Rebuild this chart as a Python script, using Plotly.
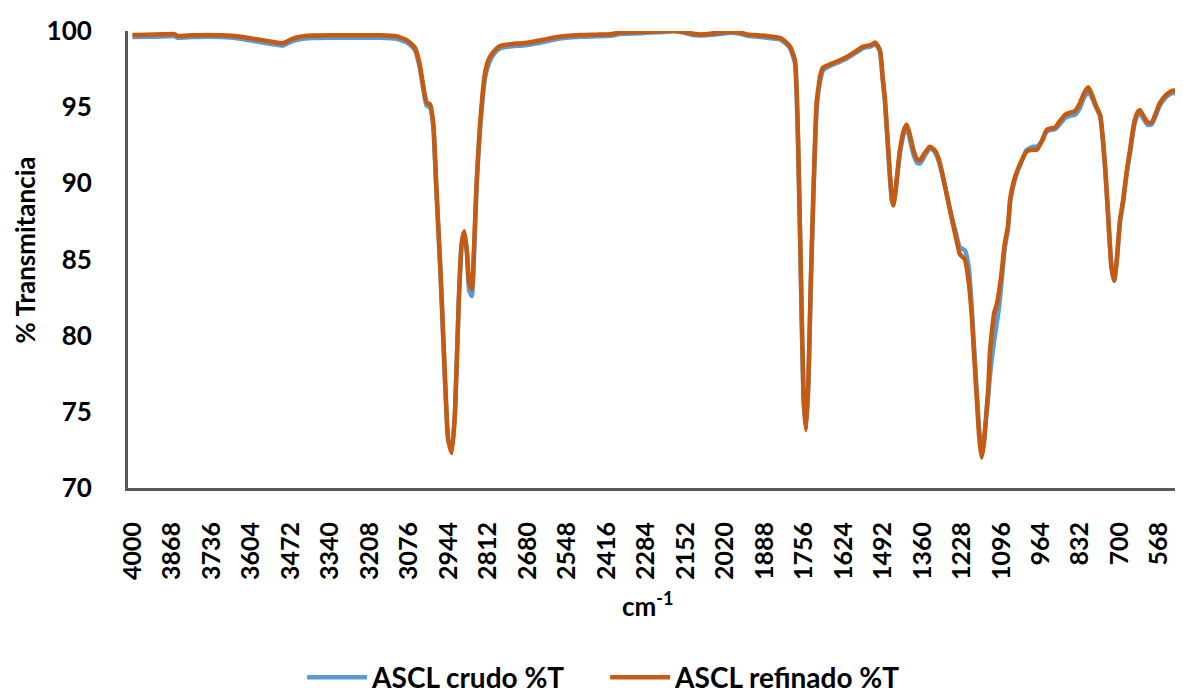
import plotly.graph_objects as go

# Wavenumber (cm-1) sampling points
wavenumber = [4000, 3950, 3900, 3860, 3850, 3800, 3750, 3700, 3650, 3600, 3550, 3497, 3470, 3440,
              3400, 3340, 3250, 3173, 3120, 3083, 3056, 3040, 3025, 3017, 3006, 2995, 2985, 2970,
              2955, 2945, 2933, 2922, 2910, 2900, 2891, 2882, 2875, 2866, 2858, 2850, 2839, 2822,
              2808, 2795, 2780, 2766, 2730, 2695, 2661, 2620, 2594, 2550, 2505, 2450, 2404, 2371,
              2320, 2281, 2240, 2194, 2160, 2120, 2090, 2060, 2030, 2003, 1970, 1947, 1910, 1880,
              1836, 1815, 1802, 1786, 1776, 1766, 1757, 1749, 1741, 1733, 1725, 1713, 1700, 1692,
              1670, 1652, 1613, 1580, 1558, 1530, 1518, 1502, 1493, 1485, 1470, 1462, 1457, 1450,
              1435, 1420, 1412, 1402, 1390, 1378, 1368, 1355, 1335, 1320, 1308, 1295, 1279, 1262,
              1245, 1235, 1218, 1205, 1195, 1185, 1178, 1170, 1162, 1154, 1146, 1140, 1134, 1128,
              1120, 1112, 1103, 1095, 1085, 1074, 1067, 1060, 1050, 1030, 1011, 990, 978, 960,
              945, 933, 917, 900, 883, 865, 850, 835, 820, 806, 795, 780, 766, 750, 738, 728, 719,
              710, 700, 689, 677, 666, 652, 640, 633, 620, 608, 594, 580, 568, 555, 540, 521, 505, 489]

crudo = [99.6, 99.62, 99.64, 99.66, 99.56, 99.6, 99.62, 99.6, 99.52, 99.36, 99.2, 99.05, 99.3, 99.46,
         99.54, 99.56, 99.56, 99.56, 99.5, 99.25, 98.75, 97.6, 95.8, 95.1, 95.0, 93.8, 89.8, 83.8,
         76.8, 73.2, 72.4, 75.0, 82.0, 86.0, 86.8, 85.3, 83.0, 82.6, 85.6, 89.8, 93.4, 96.9,
         97.9, 98.4, 98.75, 98.9, 99.0, 99.05, 99.15, 99.3, 99.42, 99.55, 99.62, 99.65, 99.68, 99.8,
         99.84, 99.88, 99.92, 99.98, 99.9, 99.72, 99.7, 99.76, 99.82, 99.88, 99.82, 99.7, 99.62, 99.56,
         99.45, 99.15, 98.85, 97.9, 93.0, 83.8, 75.8, 73.9, 77.0, 83.3, 88.6, 95.0, 96.9, 97.4,
         97.7, 97.85, 98.2, 98.6, 98.88, 99.0, 99.15, 98.66, 96.9, 95.3, 90.8, 88.9, 88.6, 89.4,
         92.0, 93.4, 93.65, 92.9, 91.9, 91.35, 91.3, 91.7, 92.3, 92.1, 91.6, 90.7, 89.3, 87.8,
         86.5, 85.8, 85.6, 84.5, 81.8, 78.5, 76.2, 73.8, 72.5, 73.2, 74.8, 76.0, 77.4, 78.5,
         79.7, 80.75, 82.0, 83.6, 85.7, 87.0, 88.7, 89.5, 90.3, 91.4, 92.2, 92.4, 92.4, 92.8,
         93.4, 93.5, 93.55, 93.9, 94.3, 94.45, 94.5, 94.9, 95.6, 96.0, 95.7, 95.0, 94.4, 91.2,
         87.4, 84.5, 83.7, 85.0, 87.4, 88.8, 90.7, 92.0, 93.8, 94.5, 94.6, 94.2, 93.85, 93.85,
         94.45, 95.05, 95.45, 95.75, 95.95, 95.75, 95.4]

refinado = [99.74, 99.76, 99.78, 99.8, 99.68, 99.72, 99.74, 99.72, 99.65, 99.5, 99.35, 99.2, 99.45, 99.62,
            99.7, 99.72, 99.72, 99.72, 99.65, 99.4, 98.9, 97.8, 96.0, 95.3, 95.2, 94.0, 90.0, 84.0,
            77.0, 73.2, 72.3, 75.0, 82.0, 86.0, 86.85, 85.5, 83.5, 83.05, 86.0, 90.0, 93.7, 97.2,
            98.2, 98.6, 98.9, 99.05, 99.15, 99.2, 99.3, 99.45, 99.56, 99.68, 99.74, 99.76, 99.78, 99.9,
            99.92, 99.95, 99.98, 100.0, 99.95, 99.8, 99.78, 99.85, 99.9, 99.95, 99.9, 99.78, 99.72, 99.67,
            99.55, 99.25, 98.97, 98.1, 93.3, 84.0, 76.0, 73.8, 77.0, 83.5, 89.0, 95.4, 97.2, 97.6,
            97.8, 97.95, 98.3, 98.7, 98.97, 99.1, 99.25, 98.76, 97.0, 95.5, 91.0, 89.0, 88.55, 89.5,
            92.2, 93.6, 93.85, 93.2, 92.2, 91.6, 91.5, 91.9, 92.4, 92.2, 91.75, 90.8, 89.3, 87.7,
            86.2, 85.35, 85.0, 83.5, 81.3, 78.0, 75.8, 73.3, 72.0, 73.0, 75.0, 76.5, 79.0, 80.2,
            81.5, 82.0, 83.0, 84.2, 86.0, 87.2, 88.9, 89.7, 90.45, 91.4, 92.1, 92.2, 92.2, 92.8,
            93.5, 93.6, 93.65, 94.1, 94.5, 94.65, 94.75, 95.2, 95.9, 96.3, 95.9, 95.1, 94.5, 91.3,
            87.5, 84.5, 83.6, 85.0, 87.5, 88.9, 90.8, 92.2, 94.0, 94.7, 94.8, 94.4, 94.0, 94.0,
            94.6, 95.2, 95.6, 95.9, 96.1, 95.9, 95.55]

tick_labels = [4000, 3868, 3736, 3604, 3472, 3340, 3208, 3076, 2944, 2812, 2680, 2548, 2416,
               2284, 2152, 2020, 1888, 1756, 1624, 1492, 1360, 1228, 1096, 964, 832, 700, 568]
y_ticks = [70, 75, 80, 85, 90, 95, 100]

FONT = "Lato, 'Open Sans', sans-serif"
AXIS_COLOR = "#595959"

fig = go.Figure()
fig.add_trace(go.Scatter(x=wavenumber, y=crudo, mode="lines", name="ASCL crudo %T",
                         line=dict(color="#5B9BD5", width=4.5, shape="spline", smoothing=0.5)))
fig.add_trace(go.Scatter(x=wavenumber, y=refinado, mode="lines", name="ASCL refinado %T",
                         line=dict(color="#C55A11", width=4.5, shape="spline", smoothing=0.5)))

# The page body adds an 8 px offset, so the figure is sized and placed to compensate.
fig.update_layout(
    width=1175, height=686,
    margin=dict(l=120, r=0, t=23, b=206, autoexpand=False),
    paper_bgcolor="white", plot_bgcolor="white",
    font=dict(family=FONT, color="black"),
    showlegend=True,
    legend=dict(orientation="h", x=0.165, xanchor="left", y=-0.415, yanchor="middle",
                font=dict(family=FONT, size=28, weight="bold", color="black"),
                itemwidth=60, tracegroupgap=0, entrywidth=228, entrywidthmode="pixels"),
)

fig.update_xaxes(
    range=[4015, 489], tickmode="array", tickvals=tick_labels,
    ticktext=[str(v) for v in tick_labels], tickangle=-90,
    tickfont=dict(family=FONT, size=25, weight="bold", color="black"),
    showgrid=False, zeroline=False, showline=True, linecolor=AXIS_COLOR, linewidth=3,
    ticks="", ticklabelstandoff=21, automargin=False,
)
fig.update_yaxes(
    range=[70, 100], tickmode="array", tickvals=y_ticks,
    tickfont=dict(family=FONT, size=26, weight="bold", color="black"),
    showgrid=False, zeroline=False, showline=True, linecolor=AXIS_COLOR, linewidth=3,
    ticks="", ticklabelstandoff=28, automargin=False,
)

fig.add_annotation(text="% Transmitancia", xref="paper", yref="paper", x=-0.0976, y=0.52,
                   textangle=-90, showarrow=False, xanchor="center", yanchor="middle",
                   font=dict(family=FONT, size=26, weight="bold", color="black"))
fig.add_annotation(text="cm<sup>-1</sup>", xref="paper", yref="paper", x=0.493, y=-0.254,
                   showarrow=False, xanchor="center", yanchor="middle",
                   font=dict(family=FONT, size=26, weight="bold", color="black"))

fig.write_html("out.html")
